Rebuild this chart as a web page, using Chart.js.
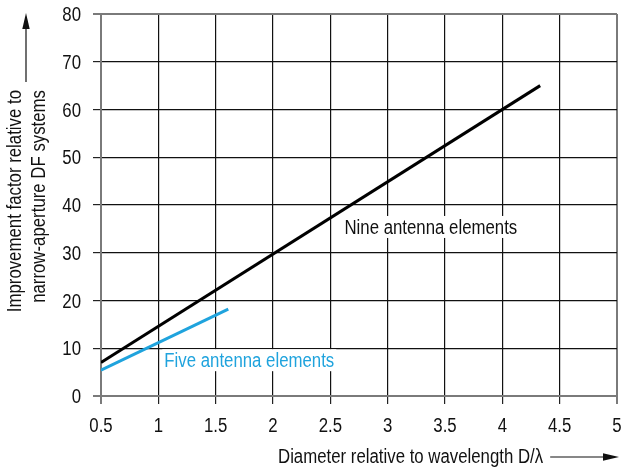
<!DOCTYPE html>
<html>
<head>
<meta charset="utf-8">
<script src="https://cdn.jsdelivr.net/npm/chart.js@4/dist/chart.umd.min.js"></script>
<style>
html,body{margin:0;padding:0;background:#fff;}
#wrap{width:621px;height:471px;}
</style>
</head>
<body>
<div id="wrap"><canvas id="c" width="621" height="471"></canvas></div>
<script>
// ---- data ----
const nineX = [0.5, 4.33];
const nineY = [7, 65];
const fiveX = [0.5, 1.61];
const fiveY = [5.4, 18.2];
const xTicks = [0.5, 1, 1.5, 2, 2.5, 3, 3.5, 4, 4.5, 5];
const xTickLabels = ["0.5", "1", "1.5", "2", "2.5", "3", "3.5", "4", "4.5", "5"];
const yTicks = [0, 10, 20, 30, 40, 50, 60, 70, 80];
const yTickLabels = ["0", "10", "20", "30", "40", "50", "60", "70", "80"];
const nineLabel = "Nine antenna elements";
const fiveLabel = "Five antenna elements";
const xTitle = "Diameter relative to wavelength D/λ";
const yTitle1 = "Improvement factor relative to";
const yTitle2 = "narrow-aperture DF systems";

const FONT = '"Liberation Sans", Arial, sans-serif';
const FSIZE = 20;
const SQ = 0.84;            // horizontal condensing of the text face
const BLUE = '#1fa3dd';
const GRAY = '#7a7a7a';
const TXT = '#111';

const pts = (xs, ys) => xs.map((x, i) => ({x: x, y: ys[i]}));

function condText(ctx, t, x, y, align, base, color) {
  ctx.save();
  ctx.translate(x, y);
  ctx.scale(SQ, 1);
  ctx.textAlign = align;
  ctx.textBaseline = base;
  ctx.fillStyle = color;
  ctx.fillText(t, 0, 0);
  ctx.restore();
}

const extras = {
  id: 'extras',
  beforeDatasetsDraw(chart) {
    const ctx = chart.ctx, xs = chart.scales.x, ys = chart.scales.y;
    ctx.save();
    ctx.font = FSIZE + 'px ' + FONT;
    const labs = [
      {t: nineLabel, x: 2.623, y: 35.4, c: TXT},
      {t: fiveLabel, x: 1.052, y: 7.5, c: BLUE}
    ];
    labs.forEach(l => {
      const px = xs.getPixelForValue(l.x), py = ys.getPixelForValue(l.y);
      const w = ctx.measureText(l.t).width * SQ;
      ctx.fillStyle = '#fff';
      ctx.fillRect(px - 2, py - 11, w + 4, 22);
      condText(ctx, l.t, px, py + 7, 'left', 'alphabetic', l.c);
    });
    ctx.restore();
  },
  afterDraw(chart) {
    const ctx = chart.ctx, xs = chart.scales.x, ys = chart.scales.y;
    ctx.save();
    ctx.font = FSIZE + 'px ' + FONT;
    // tick labels
    xTicks.forEach((v, i) => condText(ctx, xTickLabels[i], xs.getPixelForValue(v), 432, 'center', 'alphabetic', TXT));
    yTicks.forEach((v, i) => condText(ctx, yTickLabels[i], 81, ys.getPixelForValue(v) + 7, 'right', 'alphabetic', TXT));
    // x title + arrow
    condText(ctx, xTitle, 278, 463, 'left', 'alphabetic', TXT);
    const xe = 278 + ctx.measureText(xTitle).width * SQ;
    ctx.strokeStyle = TXT; ctx.fillStyle = TXT;
    ctx.lineWidth = 1.2;
    ctx.beginPath(); ctx.moveTo(xe + 7, 457); ctx.lineTo(606, 457); ctx.stroke();
    ctx.beginPath(); ctx.moveTo(619, 457); ctx.lineTo(603, 453.3); ctx.lineTo(603, 460.7); ctx.closePath(); ctx.fill();
    // y title (rotated) + arrow
    ctx.save();
    ctx.rotate(-Math.PI / 2);
    condText(ctx, yTitle1, -90, 21, 'right', 'alphabetic', TXT);
    condText(ctx, yTitle2, -90, 45, 'right', 'alphabetic', TXT);
    ctx.restore();
    ctx.beginPath(); ctx.moveTo(26, 82); ctx.lineTo(26, 26); ctx.stroke();
    ctx.beginPath(); ctx.moveTo(26, 13); ctx.lineTo(22.3, 29); ctx.lineTo(29.7, 29); ctx.closePath(); ctx.fill();
    ctx.restore();
  }
};

const isEdge = (v, a, b) => Math.abs(v - a) < 1e-6 || Math.abs(v - b) < 1e-6;

new Chart(document.getElementById('c'), {
  type: 'line',
  data: {
    datasets: [
      {data: pts(nineX, nineY), borderColor: '#000', borderWidth: 3, pointRadius: 0, fill: false, tension: 0},
      {data: pts(fiveX, fiveY), borderColor: BLUE, borderWidth: 3, pointRadius: 0, fill: false, tension: 0}
    ]
  },
  options: {
    responsive: false,
    animation: false,
    events: [],
    layout: {padding: {left: 0, top: 14, right: 4, bottom: 0}},
    plugins: {legend: {display: false}, tooltip: {enabled: false}},
    scales: {
      x: {
        type: 'linear', min: xTicks[0], max: xTicks[xTicks.length - 1],
        afterBuildTicks: s => { s.ticks = xTicks.map(v => ({value: v})); },
        afterFit: s => { s.height = 75; s.paddingLeft = 0; s.paddingRight = 0; },
        ticks: {display: false},
        grid: {
          color: c => (c.tick && isEdge(c.tick.value, 0.5, 5)) ? GRAY : '#111',
          lineWidth: c => (c.tick && isEdge(c.tick.value, 0.5, 5)) ? 2 : 1.2,
          tickColor: '#222', tickLength: 8, tickWidth: 1.2
        },
        border: {display: true, color: GRAY, width: 2}
      },
      y: {
        type: 'linear', min: yTicks[0], max: yTicks[yTicks.length - 1],
        afterBuildTicks: s => { s.ticks = yTicks.map(v => ({value: v})); },
        afterFit: s => { s.width = 101; s.paddingTop = 0; s.paddingBottom = 0; },
        ticks: {display: false},
        grid: {
          color: c => (c.tick && isEdge(c.tick.value, 0, 80)) ? GRAY : '#111',
          lineWidth: c => (c.tick && isEdge(c.tick.value, 0, 80)) ? 2 : 1.2,
          tickColor: '#222', tickLength: 8, tickWidth: 1.2
        },
        border: {display: true, color: GRAY, width: 2}
      }
    }
  },
  plugins: [extras]
});
</script>
</body>
</html>
